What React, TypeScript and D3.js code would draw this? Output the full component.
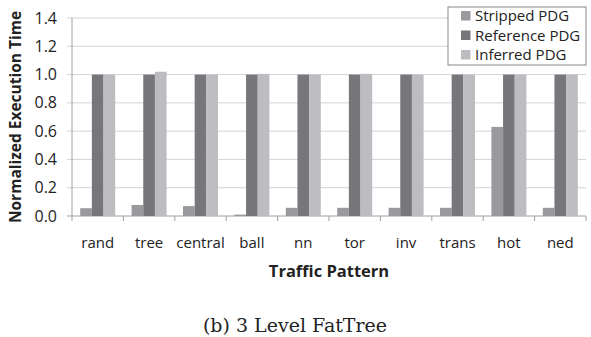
import React from "react";
import * as d3 from "d3";

const categories = ["rand", "tree", "central", "ball", "nn", "tor", "inv", "trans", "hot", "ned"];
const seriesNames = ["Stripped PDG", "Reference PDG", "Inferred PDG"];
const stripped = [0.055, 0.078, 0.07, 0.01, 0.058, 0.058, 0.058, 0.058, 0.63, 0.058];
const reference = [1.0, 1.0, 1.0, 1.0, 1.0, 1.0, 1.0, 1.0, 1.0, 1.0];
const inferred = [1.0, 1.02, 1.0, 1.005, 1.0, 1.005, 1.0, 1.0, 1.0, 1.0];
const yTicks = [0, 0.2, 0.4, 0.6, 0.8, 1.0, 1.2, 1.4];
const colors = ["#9a9a9e", "#77777b", "#bdbdc1"];

const W = 591;
const H = 337;
const left = 72;
const right = 586;
const top = 18;
const bottom = 216;
const font = "'Open Sans', 'Noto Sans', sans-serif";

export default function App() {
  const x = d3.scaleBand<string>().domain(categories).range([left, right]).paddingInner(0).paddingOuter(0);
  const inner = d3.scaleBand<number>().domain([0, 1, 2]).range([0, 35]);
  const y = d3.scaleLinear().domain([0, 1.4]).range([bottom, top]);
  const series = [stripped, reference, inferred];
  const groupOffset = (x.bandwidth() - 35) / 2;

  return (
    <svg width={W} height={H} style={{ display: "block", position: "absolute", left: 0, top: 0, background: "#fff" }}>
      <rect width={W} height={H} fill="#fff" />
      {yTicks.map((t) => (
        <g key={t}>
          <line x1={left - 5} x2={right} y1={y(t)} y2={y(t)} stroke={t === 0 ? "#a0a0a0" : "#d4d4d4"} strokeWidth={1} />
          <text x={57} y={y(t)} dy="0.35em" textAnchor="end" fontFamily={font} fontSize={16} fill="#222">
            {t.toFixed(1)}
          </text>
        </g>
      ))}
      <line x1={left} x2={left} y1={top} y2={bottom} stroke="#a0a0a0" />
      {d3.range(categories.length + 1).map((i) => {
        const px = left + i * x.step();
        return <line key={i} x1={px} x2={px} y1={bottom} y2={bottom + 5} stroke="#a0a0a0" />;
      })}
      {categories.map((c, ci) => (
        <g key={c}>
          {series.map((s, si) => (
            <rect
              key={si}
              x={(x(c) as number) + groupOffset + (inner(si) as number)}
              y={y(s[ci])}
              width={inner.bandwidth()}
              height={bottom - y(s[ci])}
              fill={colors[si]}
            />
          ))}
          <text
            x={(x(c) as number) + x.bandwidth() / 2}
            y={248}
            textAnchor="middle"
            fontFamily={font}
            fontSize={15}
            fill="#222"
          >
            {c}
          </text>
        </g>
      ))}
      <text x={329} y={277} textAnchor="middle" fontFamily={font} fontSize={16.5} fontWeight="bold" fill="#222">
        Traffic Pattern
      </text>
      <text
        transform={`translate(21,${(top + bottom) / 2}) rotate(-90)`}
        textAnchor="middle"
        fontFamily={font}
        fontSize={15.5}
        fontWeight="bold"
        fill="#222"
      >
        Normalized Execution Time
      </text>
      <g>
        <rect x={448} y={7} width={138} height={58} fill="#fff" stroke="#888" strokeWidth={1} />
        {seriesNames.map((n, i) => (
          <g key={n}>
            <rect x={461} y={11 + i * 19.5} width={9.5} height={9.5} fill={colors[i]} />
            <text x={475} y={16 + i * 19.5} dy="0.35em" fontFamily={font} fontSize={15} fill="#222">
              {n}
            </text>
          </g>
        ))}
      </g>
      <text x={295} y={332} textAnchor="middle" fontFamily="'DejaVu Serif', 'Liberation Serif', serif" fontSize={19} fill="#222">
        (b) 3 Level FatTree
      </text>
    </svg>
  );
}
